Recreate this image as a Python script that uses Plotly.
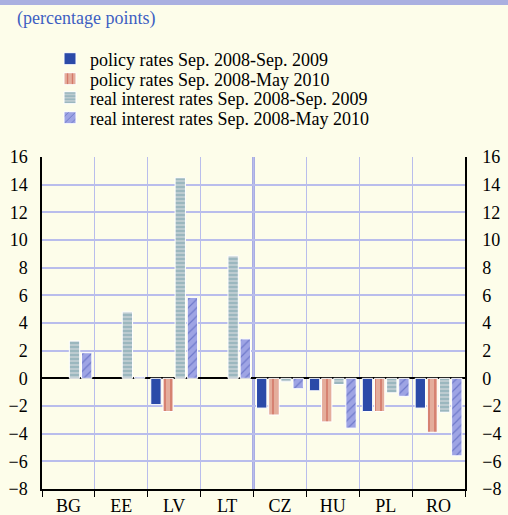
import plotly.graph_objects as go

# Country groups
countries = ['BG', 'EE', 'LV', 'LT', 'CZ', 'HU', 'PL', 'RO']

# Changes in percentage points (None = no bar)
policy_sep09 = [None, None, -1.9, None, -2.15, -0.9, -2.4, -2.15]
policy_may10 = [None, None, -2.4, None, -2.65, -3.15, -2.4, -3.9]
real_sep09 = [2.7, 4.8, 14.5, 8.85, -0.25, -0.45, -1.05, -2.45]
real_may10 = [1.85, 0.1, 5.85, 2.85, -0.75, -3.6, -1.3, -5.6]

y_ticks = list(range(-8, 17, 2))

serif = 'Liberation Serif'
bg = '#fdfdea'
grid = '#b9bdec'

# plot area in pixels: x 42..465, y 157..489
def py(pix):
    return (489 - pix) / 332

fig = go.Figure()

fig.add_trace(go.Bar(
    x=countries, y=policy_sep09, name='policy rates Sep. 2008-Sep. 2009', legend='legend',
    marker=dict(color='#2b4aa8', line=dict(color='white', width=1))))
fig.add_trace(go.Bar(
    x=countries, y=policy_may10, name='policy rates Sep. 2008-May 2010', legend='legend2',
    marker=dict(color='#e4ad9c', line=dict(color='white', width=1),
                pattern=dict(shape='|', fgcolor='#c0392b', size=6, solidity=0.25,
                             fillmode='overlay'))))
fig.add_trace(go.Bar(
    x=countries, y=real_sep09, name='real interest rates Sep. 2008-Sep. 2009', legend='legend3',
    marker=dict(color='#bccbd0', line=dict(color='white', width=1),
                pattern=dict(shape='-', fgcolor='#4d8796', size=4, solidity=0.3,
                             fillmode='overlay'))))
fig.add_trace(go.Bar(
    x=countries, y=real_may10, name='real interest rates Sep. 2008-May 2010', legend='legend4',
    marker=dict(color='#9ea4e4', line=dict(color='white', width=1),
                pattern=dict(shape='/', fgcolor='#3f4fb0', size=6, solidity=0.2,
                             fillmode='overlay'))))

# invisible trace so the right-hand axis is drawn
fig.add_trace(go.Scatter(x=countries, y=[None] * len(countries), yaxis='y2',
                         showlegend=False, hoverinfo='skip'))

# heavier separator between the Baltics/BG and the others
fig.add_shape(type='line', xref='x', yref='paper', x0=3.5, x1=3.5, y0=0, y1=1,
              line=dict(color='#a9ade2', width=3), layer='below')
# band along the top
fig.add_shape(type='rect', xref='paper', yref='paper', x0=-0.2, x1=1.2,
              y0=py(5), y1=1.6, fillcolor='#aab0e0', line_width=0)

fig.add_annotation(text='(percentage points)', xref='paper', yref='paper',
                   x=(15 - 42) / 423, y=py(19), xanchor='left', yanchor='middle',
                   showarrow=False, font=dict(family=serif, size=18, color='#3d5fc2'))

# one legend per row so the row spacing can match
leg = dict(x=(50 - 42) / 423, xanchor='left', yanchor='middle',
           bgcolor='rgba(0,0,0,0)', font=dict(family=serif, size=18), itemwidth=30)

fig.update_layout(
    width=508, height=515,
    margin=dict(l=42, r=43, t=157, b=26, autoexpand=False),
    paper_bgcolor=bg, plot_bgcolor=bg,
    barmode='group', bargap=0.08, bargroupgap=0.15,
    font=dict(family=serif, size=18, color='black'),
    legend=dict(leg, y=py(59)),
    legend2=dict(leg, y=py(79)),
    legend3=dict(leg, y=py(98)),
    legend4=dict(leg, y=py(118)),
    xaxis=dict(tickson='boundaries', showgrid=True, gridcolor=grid, gridwidth=1,
               ticks='outside', ticklen=6, tickcolor='black', showline=True,
               linecolor='black', linewidth=1.5, tickfont=dict(family=serif, size=18)),
    yaxis=dict(range=[-8, 16], tickvals=y_ticks, showgrid=True, gridcolor=grid,
               gridwidth=2, zeroline=True, zerolinecolor='black', zerolinewidth=1.5,
               showline=True, linecolor='black', linewidth=1.5, ticks='',
               ticklabelstandoff=9, tickfont=dict(family=serif, size=18)),
    yaxis2=dict(range=[-8, 16], tickvals=y_ticks, overlaying='y', side='right',
                showgrid=False, zeroline=False, showline=True, linecolor='black',
                linewidth=1.5, ticks='', ticklabelstandoff=12,
                tickfont=dict(family=serif, size=18)),
    showlegend=True,
)

# drop the page's default body margin so the figure fills the window
fig.write_html('out.html', config={'displayModeBar': False},
               post_script="document.body.style.margin='0';")
